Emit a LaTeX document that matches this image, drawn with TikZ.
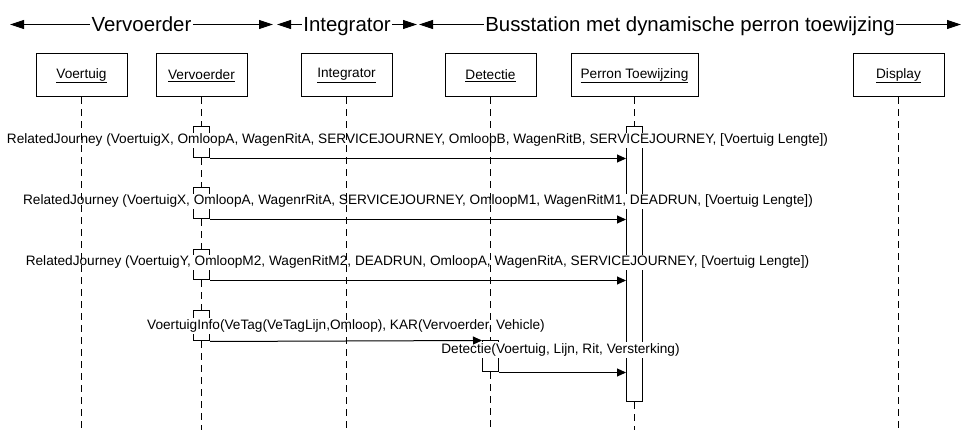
\documentclass[tikz,border=0pt]{standalone}
\usepackage{fontspec}
\setmainfont{Liberation Sans}
\usetikzlibrary{arrows.meta}
\begin{document}
\begin{tikzpicture}[x=1pt,y=-1pt,
  every node/.style={font=\fontsize{13.65}{15}\selectfont},
  head/.style={draw, line width=1pt, minimum width=91pt, minimum height=43pt, inner sep=0pt},
  act/.style={draw, line width=1pt, fill=white, minimum width=16pt, inner sep=0pt},
  msg/.style={fill=white, inner xsep=1pt, inner ysep=1.5pt, text height=9.8pt, text depth=2.8pt, anchor=base},
  life/.style={line width=1pt, dash pattern=on 7pt off 5pt},
  call/.style={line width=1pt, -{Triangle[length=9pt,width=8pt]}},
  hdr/.style={line width=1pt, {Triangle[length=14pt,width=9pt]}-{Triangle[length=14pt,width=9pt]}},
  htxt/.style={fill=white, inner xsep=1.5pt, inner ysep=0pt, text height=14.8pt, text depth=0pt, font=\fontsize{20.4}{22}\selectfont}
]
\useasboundingbox (0,0) rectangle (962,430);
\coordinate (bot) at (0,430);

% header bands
\coordinate (h1a) at (10,24.5);
\coordinate (h1b) at (273,24.5);
\coordinate (h2a) at (277,24.5);
\coordinate (h2b) at (417,24.5);
\coordinate (h3a) at (419,24.5);
\coordinate (h3b) at (961,24.5);
\draw[hdr] (h1a) -- node[htxt] (t1) {Vervoerder} (h1b);
\draw[hdr] (h2a) -- node[htxt] (t2) {Integrator} (h2b);
\draw[hdr] (h3a) -- node[htxt] (t3) {Busstation met dynamische perron toewijzing} (h3b);

% lifeline heads
\node[head] (vt) at (81.5,75.5) {\underline{Voertuig}};
\node[head] (vv) at (201.5,75.5) {\underline{Vervoerder}};
\node[head] (ig) at (346.5,75.5) {\underline{Integrator}};
\node[head] (de) at (490.5,75.5) {\underline{Detectie}};
\node[head, minimum width=127pt] (pt) at (634.5,75.5) {\underline{Perron Toewijzing}};
\node[head] (di) at (898.5,75.5) {\underline{Display}};

% activations
\node[act, minimum height=31pt] (a1) at (201.5,142.5) {};
\node[act, minimum height=31pt] (a2) at (201.5,203.5) {};
\node[act, minimum height=30pt] (a3) at (201.5,265) {};
\node[act, minimum height=30pt] (a4) at (201.5,326) {};
\node[act, minimum height=275pt] (p1) at (634.5,264.5) {};
\node[act, minimum height=31pt] (d1) at (490.5,356.5) {};

% message labels
\node[msg] (m1) at (417.5,144) {RelatedJourney (VoertuigX, OmloopA, WagenRitA, SERVICEJOURNEY, OmloopB, WagenRitB, SERVICEJOURNEY, [Voertuig Lengte])};
\node[msg] (m2) at (418,205) {RelatedJourney (VoertuigX, OmloopA, WagenrRitA, SERVICEJOURNEY, OmloopM1, WagenRitM1, DEADRUN, [Voertuig Lengte])};
\node[msg] (m3) at (417.5,266) {RelatedJourney (VoertuigY, OmloopM2, WagenRitM2, DEADRUN, OmloopA, WagenRitA, SERVICEJOURNEY, [Voertuig Lengte])};
\node[msg] (m4) at (346,329.5) {VoertuigInfo(VeTag(VeTagLijn,Omloop), KAR(Vervoerder, Vehicle)};
\node[msg] (m5) at (560.5,353.5) {Detectie(Voertuig, Lijn, Rit, Versterking)};

% lifelines
\draw[life] (vt.south) -- (vt.south |- bot);
\draw[life] (vv.south) -- (a1.north);
\draw[life] (a1.south) -- (a2.north);
\draw[life] (a2.south) -- (a3.north);
\draw[life] (a3.south) -- (a4.north);
\draw[life] (a4.south) -- (a4.south |- bot);
\draw[life] (ig.south) -- (ig.south |- bot);
\draw[life] (de.south) -- (d1.north);
\draw[life] (d1.south) -- (d1.south |- bot);
\draw[life] (pt.south) -- (p1.north);
\draw[life] (p1.south) -- (p1.south |- bot);
\draw[life] (di.south) -- (di.south |- bot);

% messages
\draw[call] (a1.south east) -- (a1.south east -| p1.west);
\draw[call] (a2.south east) -- (a2.south east -| p1.west);
\draw[call] (a3.south east) -- (a3.south east -| p1.west);
\draw[call] (a4.south east) -- (d1.north west);
\draw[call] (d1.south east) -- (d1.south east -| p1.west);
\end{tikzpicture}
\end{document}
